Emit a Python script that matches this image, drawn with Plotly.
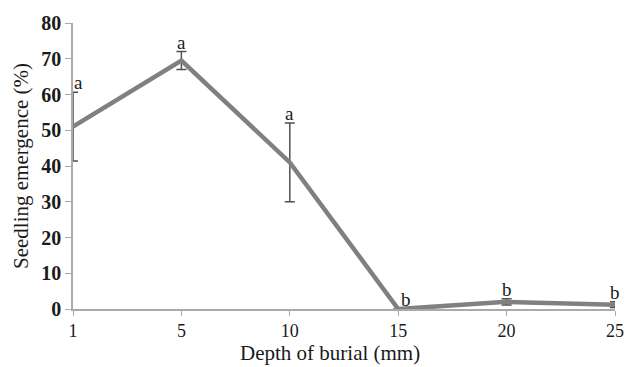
import plotly.graph_objects as go

depths = ["1", "5", "10", "15", "20", "25"]
emergence = [51.0, 69.5, 41.0, 0.0, 2.0, 1.2]
err = [9.6, 2.5, 11.0, 0.0, 0.9, 0.8]
letters = ["a", "a", "a", "b", "b", "b"]

font_fam = "Liberation Serif, Times New Roman, serif"

fig = go.Figure()
fig.add_trace(go.Scatter(
    x=depths, y=emergence, mode="lines",
    line=dict(color="#808080", width=4.5),
    error_y=dict(type="data", array=err, visible=True, color="#505050",
                 thickness=1.5, width=5),
    showlegend=False,
))

xshifts = [5, 0, 0, 8, 0, 0]
for i, (m, e, t, xs) in enumerate(zip(emergence, err, letters, xshifts)):
    fig.add_annotation(x=i, y=m + e, text=t, showarrow=False,
                       yanchor="bottom", xshift=xs, yshift=-3,
                       font=dict(family=font_fam, size=19, color="#1a1a1a"))

# x-axis title (centred slightly left of the plot centre, as in the reference)
fig.add_annotation(text="Depth of burial (mm)", xref="paper", yref="paper",
                   x=0.474, y=0, yshift=-44, yanchor="middle", showarrow=False,
                   font=dict(family=font_fam, size=21, color="#1a1a1a"))

fig.update_layout(
    width=639, height=367,
    margin=dict(l=73, r=24, t=14, b=58),
    paper_bgcolor="white", plot_bgcolor="white",
    font=dict(family=font_fam, size=19, color="#1a1a1a"),
    xaxis=dict(type="category", range=[0, 5], showgrid=False,
               showline=True, linecolor="#aaaaaa", linewidth=1.5,
               ticks="outside", ticklen=5, tickcolor="#aaaaaa",
               tickfont=dict(size=18)),
    yaxis=dict(range=[0, 80], dtick=10, showgrid=False, zeroline=False,
               showline=True, linecolor="#aaaaaa", linewidth=1.5,
               ticks="outside", ticklen=6, tickcolor="#aaaaaa",
               tickfont=dict(size=20, weight="bold"),
               title=dict(text="Seedling emergence (%)", font=dict(size=21), standoff=7)),
)

fig.write_html("out.html")
